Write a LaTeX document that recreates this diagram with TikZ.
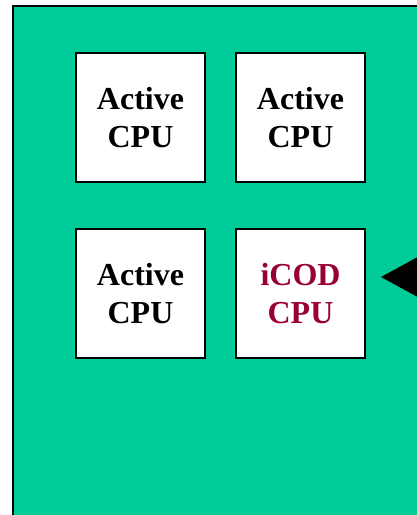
\documentclass[tikz,border=0pt]{standalone}
\usepackage{fontspec}
\setmainfont{Liberation Serif}
\definecolor{boardgreen}{HTML}{00CC99}
\definecolor{icodred}{HTML}{990033}
\tikzset{
  cpubox/.style={draw=black, line width=1.6pt, fill=white, minimum width=129pt, minimum height=129pt,
    inner sep=0pt, align=center, font=\bfseries\fontsize{32}{38}\selectfont},
}
\begin{document}
\begin{tikzpicture}[x=1pt,y=-1pt]
  \useasboundingbox (0,0) rectangle (417,515);
  \begin{scope}
    \clip (0,0) rectangle (417,515);
    % board outline running off the right and bottom edges
    \draw[fill=boardgreen, line width=2.2pt] (13,6) rectangle (440,540);
    % pointer at the right edge
    \fill[black] (381,277) -- (425,253) -- (425,301) -- cycle;
  \end{scope}
  \node[cpubox] (a1) at (140.5,117.5) {Active\\CPU};
  \node[cpubox] (a2) at (300.5,117.5) {Active\\CPU};
  \node[cpubox] (a3) at (140.5,293.5) {Active\\CPU};
  \node[cpubox, text=icodred] (ic) at (300.5,293.5) {iCOD\\CPU};
\end{tikzpicture}
\end{document}
